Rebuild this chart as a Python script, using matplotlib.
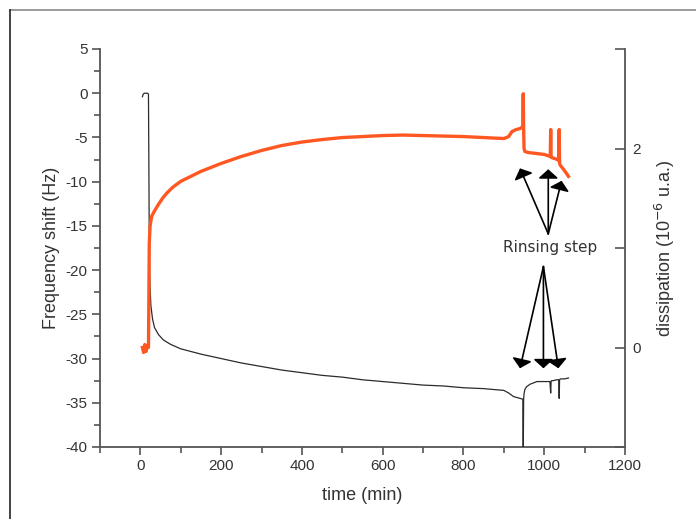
import matplotlib
matplotlib.use("Agg")
import matplotlib.pyplot as plt
from matplotlib.lines import Line2D
from matplotlib.ticker import MultipleLocator, FixedLocator

# Frequenz (linke Achse, schwarz)
freq_time = [5, 7, 10, 18, 20, 21, 22, 23, 24, 26, 30, 35, 45, 57, 75,
             100, 150, 200, 250, 300, 350, 400, 450, 500, 550, 600, 650, 700, 750, 800,
             850, 900, 912, 924, 940, 947, 948, 949, 950, 952, 956, 965, 982, 1000, 1014,
             1016, 1017, 1018, 1022, 1031, 1036, 1037, 1038, 1040, 1050, 1060]
freq_shift = [-0.4, -0.1, 0.0, 0.0, -0.1, -8.0, -17.0, -20.5, -22.0, -24.0, -25.5, -26.5, -27.3, -27.9, -28.4,
              -28.9, -29.5, -30.0, -30.5, -30.9, -31.3, -31.6, -31.9, -32.1, -32.4, -32.6, -32.8, -33.0, -33.1, -33.3,
              -33.4, -33.6, -33.9, -34.3, -34.5, -34.6, -41.0, -34.6, -34.0, -33.5, -33.2, -32.9, -32.6, -32.6, -32.6,
              -33.9, -32.6, -32.5, -32.5, -32.4, -32.4, -34.5, -32.4, -32.3, -32.3, -32.2]

# Dissipation (rechte Achse, orange)
diss_time = [5, 8, 11, 14, 17, 20, 21, 22, 24, 28, 36, 45, 55, 65, 80,
             100, 125, 150, 175, 200, 250, 300, 350, 400, 450, 500, 550, 600, 650, 700,
             750, 800, 850, 900, 912, 920, 930, 940, 947, 948, 949, 950, 952, 960, 980,
             1000, 1015, 1016, 1017, 1018, 1025, 1032, 1036, 1037, 1038, 1040, 1048, 1055, 1060]
dissipation = [0.0, -0.05, 0.03, -0.04, 0.02, 0.0, 0.5, 1.05, 1.22, 1.32, 1.38, 1.44, 1.50, 1.55, 1.61,
               1.67, 1.72, 1.77, 1.81, 1.85, 1.92, 1.98, 2.03, 2.065, 2.09, 2.11, 2.12, 2.13, 2.135, 2.13,
               2.125, 2.12, 2.11, 2.10, 2.12, 2.17, 2.19, 2.20, 2.22, 2.55, 2.20, 2.00, 1.97, 1.96, 1.95,
               1.94, 1.92, 2.19, 1.92, 1.91, 1.90, 1.89, 1.88, 2.19, 1.85, 1.83, 1.79, 1.75, 1.72]

# Pfeile "Rinsing step" (Zeit, Frequenz)
label_pos = (1015, -17.4)
up_tail = (1010, -15.9)
up_heads = [(940, -8.5), (1010, -8.6), (1043, -9.9)]
down_tail = (998, -19.6)
down_heads = [(940, -31.1), (998, -31.1), (1035, -31.1)]

SPINE = "#555555"
TXT = "#333333"


def main():
    plt.rcParams['font.family'] = ['Liberation Sans', 'DejaVu Sans']
    plt.rcParams['axes.unicode_minus'] = False

    fig = plt.figure(figsize=(6.96, 5.19), dpi=100)
    fig.patch.set_facecolor('white')
    ax = fig.add_axes([100 / 696, 1 - 447 / 519, 525 / 696, 398 / 519])
    ax2 = ax.twinx()

    # Kurven
    ax.plot(freq_time, freq_shift, color="#2b2b2b", lw=0.9, zorder=3)
    ax2.plot(diss_time, dissipation, color="#ff5722", lw=2.4, zorder=2)

    # Achsen
    ax.set_xlim(-100, 1200)
    ax.set_ylim(-40, 5)
    ax2.set_ylim(-1, 3)

    ax.xaxis.set_major_locator(FixedLocator(range(0, 1201, 200)))
    ax.xaxis.set_minor_locator(MultipleLocator(100))
    ax.yaxis.set_major_locator(MultipleLocator(5))
    ax.yaxis.set_minor_locator(MultipleLocator(2.5))
    ax2.yaxis.set_major_locator(FixedLocator([0, 2]))
    ax2.yaxis.set_minor_locator(FixedLocator([-1, 1, 3]))

    for s in ['top', 'right']:
        ax.spines[s].set_visible(False)
    for s in ['top', 'left', 'bottom']:
        ax2.spines[s].set_visible(False)
    for sp in [ax.spines['left'], ax.spines['bottom'], ax2.spines['right']]:
        sp.set_color(SPINE)
        sp.set_linewidth(1.3)

    ax.tick_params(which='both', direction='out', color=SPINE, width=1.2, labelsize=11, labelcolor=TXT)
    ax.tick_params(which='major', length=6, pad=3)
    ax.tick_params(which='minor', length=4)
    ax2.tick_params(which='both', direction='in', color=SPINE, width=1.2, labelsize=11, labelcolor=TXT)
    ax2.tick_params(which='major', length=7, pad=5)
    ax2.tick_params(which='minor', length=7)

    ax.set_xlabel("time (min)", fontsize=13, color=TXT, labelpad=10)
    ax.set_ylabel("Frequency shift (Hz)", fontsize=13, color=TXT, labelpad=4)
    ax2.set_ylabel("dissipation (10$^{-6}$ u.a.)", fontsize=13, color=TXT, labelpad=9)

    # Beschriftung + Pfeile
    ax.text(label_pos[0], label_pos[1], "Rinsing step", fontsize=11, color=TXT,
            family='DejaVu Sans', ha='center', va='center', zorder=5)
    arrow = dict(arrowstyle='-|>,head_length=0.45,head_width=0.5', color='black',
                 lw=1.2, shrinkA=0, shrinkB=0, mutation_scale=12)
    for head in up_heads:
        ax.annotate("", xy=head, xytext=up_tail, arrowprops=arrow, zorder=5)
    for head in down_heads:
        ax.annotate("", xy=head, xytext=down_tail, arrowprops=arrow, zorder=5)

    # Rahmen oben / links
    fig.add_artist(Line2D([10 / 696, 1], [1 - 10 / 519] * 2, color="#8a8a8a", lw=1.2))
    fig.add_artist(Line2D([10 / 696] * 2, [0, 1 - 10 / 519], color="#222222", lw=1.2))

    plt.savefig("out.png", dpi=100)
    plt.close()


if __name__ == "__main__":
    main()
